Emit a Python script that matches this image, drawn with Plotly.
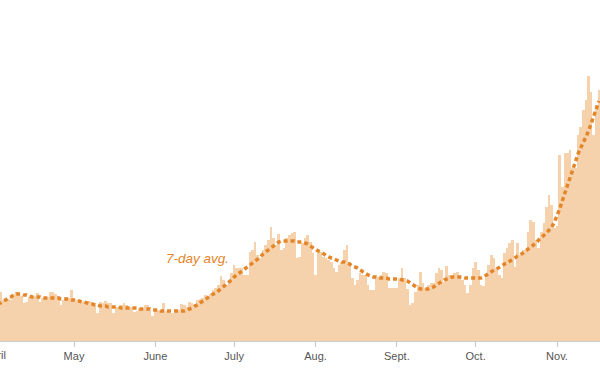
import plotly.graph_objects as go
import pandas as pd

# Daily new cases (Apr 2 .. Nov 17, 2020)
dates = pd.date_range("2020-04-02", periods=230, freq="D")

cases = [
    490, 490, 410, 400, 420, 410, 470, 490, 480, 450,
    380, 390, 440, 440, 450, 480, 390, 430, 440, 440,
    490, 490, 470, 450, 360, 410, 440, 430, 510, 420,
    410, 400, 390, 400, 390, 400, 380, 380, 280, 390,
    380, 400, 380, 380, 280, 340, 340, 360, 380, 360,
    340, 340, 290, 300, 330, 330, 360, 360, 310, 250,
    310, 310, 310, 380, 300, 290, 280, 280, 310, 310,
    370, 360, 340, 390, 380, 340, 410, 420, 430, 460,
    450, 470, 510, 530, 560, 650, 610, 560, 580, 680,
    760, 730, 730, 730, 660, 660, 890, 910, 990, 860,
    830, 910, 960, 1010, 1140, 1030, 960, 1070, 910, 930,
    1030, 1060, 1080, 1090, 830, 840, 980, 1030, 1060, 990,
    880, 660, 880, 890, 840, 830, 810, 790, 730, 690,
    760, 790, 910, 960, 790, 630, 560, 610, 680, 660,
    660, 560, 510, 510, 640, 640, 660, 690, 680, 530,
    530, 530, 530, 630, 730, 630, 520, 360, 380, 490,
    560, 690, 580, 530, 560, 580, 580, 680, 730, 710,
    590, 750, 660, 650, 680, 690, 660, 610, 560, 480,
    560, 730, 790, 710, 560, 550, 630, 760, 860, 830,
    730, 660, 630, 880, 930, 980, 1010, 740, 980, 860,
    910, 910, 1090, 1210, 1190, 1010, 930, 1090, 1180, 1340,
    1460, 1360, 1130, 1150, 1860, 1540, 1880, 1880, 1910, 1730,
    1730, 2060, 2140, 2310, 2410, 2650, 2490, 2060, 2360, 2510,
]

avg7 = [
    370, 380, 400, 410, 430, 440, 460, 470, 470, 470,
    460, 460, 450, 440, 440, 440, 440, 430, 430, 430,
    430, 430, 430, 430, 420, 420, 420, 420, 410, 410,
    400, 400, 390, 390, 380, 370, 370, 360, 360, 350,
    350, 350, 340, 340, 340, 340, 340, 330, 330, 330,
    330, 330, 330, 330, 320, 320, 320, 320, 320, 310,
    310, 310, 300, 300, 300, 300, 300, 300, 300, 300,
    300, 300, 310, 320, 330, 350, 360, 380, 400, 420,
    430, 450, 470, 480, 500, 520, 540, 570, 590, 610,
    640, 660, 680, 700, 720, 730, 750, 770, 800, 820,
    840, 870, 890, 920, 940, 960, 980, 990, 1000, 1000,
    1000, 1000, 1000, 1000, 990, 990, 990, 980, 970, 950,
    930, 920, 900, 890, 870, 850, 840, 830, 820, 810,
    800, 790, 790, 780, 770, 750, 740, 730, 710, 690,
    680, 660, 650, 640, 640, 630, 630, 630, 630, 620,
    620, 620, 620, 620, 610, 610, 600, 580, 560, 550,
    530, 520, 520, 520, 520, 530, 540, 560, 580, 590,
    610, 620, 630, 640, 640, 640, 640, 640, 630, 630,
    630, 630, 630, 630, 630, 640, 660, 670, 690, 710,
    720, 740, 750, 770, 780, 800, 820, 830, 850, 860,
    880, 900, 910, 930, 950, 980, 1010, 1030, 1050, 1080,
    1110, 1140, 1190, 1250, 1320, 1400, 1480, 1550, 1630, 1720,
    1800, 1870, 1930, 1980, 2040, 2100, 2170, 2250, 2330, 2400,
]

tick_dates = ["2020-05-01", "2020-06-01", "2020-07-01", "2020-08-01",
              "2020-09-01", "2020-10-01", "2020-11-01"]
tick_labels = ["May", "June", "July", "Aug.", "Sept.", "Oct.", "Nov."]
first_month_date = "2020-04-01"
first_month_label = "April"

x_start = pd.Timestamp("2020-04-02 19:30")
x_end = pd.Timestamp("2020-11-17 09:00")

BAR = "#F5D2AB"
LINE = "#E5852A"
FONT = "Liberation Sans, Arial, Helvetica, sans-serif"

fig = go.Figure()
fig.add_bar(x=dates, y=cases, marker=dict(color=BAR, line=dict(width=0)),
            hoverinfo="skip")
fig.add_scatter(x=dates, y=avg7, mode="lines",
                line=dict(color=LINE, width=3.5, dash="4px,3px"),
                hoverinfo="skip")

# label for the partially visible first month (its tick lies left of the range)
frac = (pd.Timestamp(first_month_date) - x_start) / (x_end - x_start)
fig.add_annotation(x=frac, xref="paper", y=0, yref="paper", yanchor="top",
                   xanchor="center", text=first_month_label, showarrow=False,
                   yshift=-6, font=dict(family=FONT, size=11, color="#555"))

fig.add_annotation(x=pd.Timestamp("2020-06-29 18:00"), y=830, xref="x", yref="y",
                   xanchor="right", yanchor="middle", showarrow=False,
                   text="<i>7-day avg.</i>",
                   font=dict(family=FONT, size=13.5, color=LINE))

fig.update_layout(
    width=600, height=370,
    margin=dict(l=0, r=0, t=0, b=29),
    paper_bgcolor="white", plot_bgcolor="white",
    bargap=0, showlegend=False,
    xaxis=dict(type="date", range=[x_start, x_end],
               tickvals=tick_dates, ticktext=tick_labels,
               ticks="outside", ticklen=5, tickcolor="#c8c8c8", tickwidth=1,
               showline=True, linecolor="#cccccc", linewidth=1,
               showgrid=False, zeroline=False,
               tickfont=dict(family=FONT, size=11, color="#555")),
    yaxis=dict(visible=False, range=[0, 3410], fixedrange=True),
)

fig.write_html("out.html",
               config={"displayModeBar": False, "staticPlot": True},
               post_script="document.body.style.margin='0';document.body.style.overflow='hidden';")
